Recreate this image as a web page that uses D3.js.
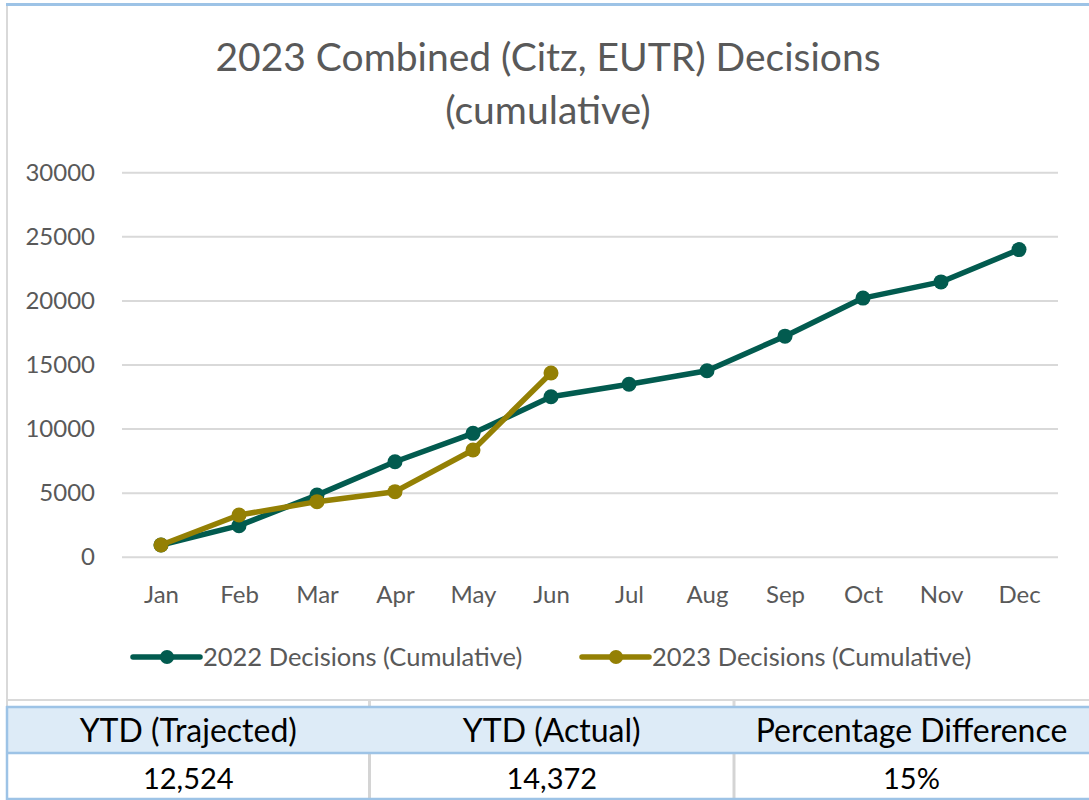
<!DOCTYPE html>
<html>
<head>
<meta charset="utf-8">
<script src="https://cdn.jsdelivr.net/npm/d3@7"></script>
<style>
  body { margin: 0; background: #fff; }
  text { font-family: Lato, "Open Sans", sans-serif; }
</style>
</head>
<body>
<svg id="chart" width="1089" height="800"></svg>
<script>
let width = 1089;
let height = 800;

let months = ["Jan", "Feb", "Mar", "Apr", "May", "Jun", "Jul", "Aug", "Sep", "Oct", "Nov", "Dec"];
let decisions2022 = [960, 2470, 4850, 7450, 9670, 12524, 13500, 14550, 17250, 20220, 21480, 24000];
let decisions2023 = [960, 3300, 4340, 5120, 8370, 14372];
let yTicks = [0, 5000, 10000, 15000, 20000, 25000, 30000];

let seriesNames = ["2022 Decisions (Cumulative)", "2023 Decisions (Cumulative)"];
let seriesColors = ["#025b4f", "#948004"];

let tableHeaders = ["YTD (Trajected)", "YTD (Actual)", "Percentage Difference"];
let tableValues = ["12,524", "14,372", "15%"];

let titleLines = ["2023 Combined (Citz, EUTR) Decisions", "(cumulative)"];

let svg = d3.select("#chart");
let margin = { top: 172.7, right: 31, bottom: 242.7, left: 122 };

let x = d3.scalePoint()
    .domain(months)
    .range([margin.left, width - margin.right])
    .padding(0.5);

let y = d3.scaleLinear()
    .domain([0, 30000])
    .range([height - margin.bottom, margin.top]);

// frame
svg.append("rect").attr("x", 6).attr("y", 3).attr("width", width - 6).attr("height", 3).attr("fill", "#9dc3e6");
svg.append("rect").attr("x", 6).attr("y", 6).attr("width", 2).attr("height", 702).attr("fill", "#d9d9d9");
svg.append("rect").attr("x", 6).attr("y", 699).attr("width", width - 6).attr("height", 2).attr("fill", "#d9d9d9");

// title
svg.append("g")
    .selectAll("text")
    .data(titleLines)
    .join("text")
    .attr("x", 548)
    .attr("y", (d, i) => 71 + i * 53)
    .attr("text-anchor", "middle")
    .attr("fill", "#595959")
    .style("font-size", "39px")
    .text(d => d);

// gridlines
svg.append("g")
    .selectAll("line")
    .data(yTicks)
    .join("line")
    .attr("x1", margin.left)
    .attr("x2", width - margin.right)
    .attr("y1", d => y(d))
    .attr("y2", d => y(d))
    .attr("stroke", "#d9d9d9")
    .attr("stroke-width", 2);

let yAxis = svg.append("g")
    .attr("transform", `translate(${margin.left},0)`)
    .call(d3.axisLeft(y).tickValues(yTicks).tickSize(0).tickPadding(27).tickFormat(d3.format("d")))
    .call(g => g.select(".domain").remove());
yAxis.selectAll("text")
    .attr("fill", "#595959")
    .style("font-size", "24px");

let xAxis = svg.append("g")
    .attr("transform", `translate(0,${y(0)})`)
    .call(d3.axisBottom(x).tickSize(0).tickPadding(29))
    .call(g => g.select(".domain").remove());
xAxis.selectAll("text")
    .attr("fill", "#595959")
    .style("font-size", "24px");

let line = d3.line()
    .x((d, i) => x(months[i]))
    .y(d => y(d));

[decisions2022, decisions2023].forEach((values, k) => {
    svg.append("path")
        .datum(values)
        .attr("fill", "none")
        .attr("stroke", seriesColors[k])
        .attr("stroke-width", 5.5)
        .attr("stroke-linejoin", "round")
        .attr("d", line);

    svg.append("g")
        .selectAll("circle")
        .data(values)
        .join("circle")
        .attr("cx", (d, i) => x(months[i]))
        .attr("cy", d => y(d))
        .attr("r", 7.5)
        .attr("fill", seriesColors[k]);
});

// legend
let legendX = [133, 582];
let legend = svg.append("g")
    .selectAll("g")
    .data(seriesNames)
    .join("g")
    .attr("transform", (d, i) => `translate(${legendX[i]},657)`);
legend.append("line")
    .attr("x1", 0).attr("x2", 67)
    .attr("stroke", (d, i) => seriesColors[i])
    .attr("stroke-width", 5.5)
    .attr("stroke-linecap", "round");
legend.append("circle")
    .attr("cx", 34).attr("r", 7)
    .attr("fill", (d, i) => seriesColors[i]);
legend.append("text")
    .attr("x", 70)
    .attr("y", 9)
    .attr("fill", "#595959")
    .style("font-size", "25.5px")
    .text(d => d);

// table
let colEdges = [7, 369.5, 734, width];

svg.append("rect").attr("x", 7).attr("y", 707).attr("width", width - 7).attr("height", 46).attr("fill", "#ddebf7");

svg.append("g")
    .selectAll("line")
    .data([369.5, 734])
    .join("line")
    .attr("x1", d => d).attr("x2", d => d)
    .attr("y1", 700).attr("y2", 707)
    .attr("stroke", "#d9d9d9").attr("stroke-width", 3);
svg.append("g")
    .selectAll("line")
    .data([369.5, 734])
    .join("line")
    .attr("x1", d => d).attr("x2", d => d)
    .attr("y1", 754).attr("y2", 798)
    .attr("stroke", "#d4d4d4").attr("stroke-width", 3);

svg.append("g")
    .selectAll("line")
    .data([707, 753, 799])
    .join("line")
    .attr("x1", 6).attr("x2", width)
    .attr("y1", d => d).attr("y2", d => d)
    .attr("stroke", "#9dc3e6").attr("stroke-width", 2.5);
svg.append("line")
    .attr("x1", 7).attr("x2", 7)
    .attr("y1", 706).attr("y2", 800)
    .attr("stroke", "#9dc3e6").attr("stroke-width", 2.5);

svg.append("g")
    .selectAll("text")
    .data(tableHeaders)
    .join("text")
    .attr("x", (d, i) => (colEdges[i] + colEdges[i + 1]) / 2)
    .attr("y", 742)
    .attr("text-anchor", "middle")
    .attr("fill", "#000")
    .style("font-size", "32px")
    .text(d => d);

svg.append("g")
    .selectAll("text")
    .data(tableValues)
    .join("text")
    .attr("x", (d, i) => (colEdges[i] + colEdges[i + 1]) / 2)
    .attr("y", 789)
    .attr("text-anchor", "middle")
    .attr("fill", "#000")
    .style("font-size", "29px")
    .text(d => d);
</script>
</body>
</html>
